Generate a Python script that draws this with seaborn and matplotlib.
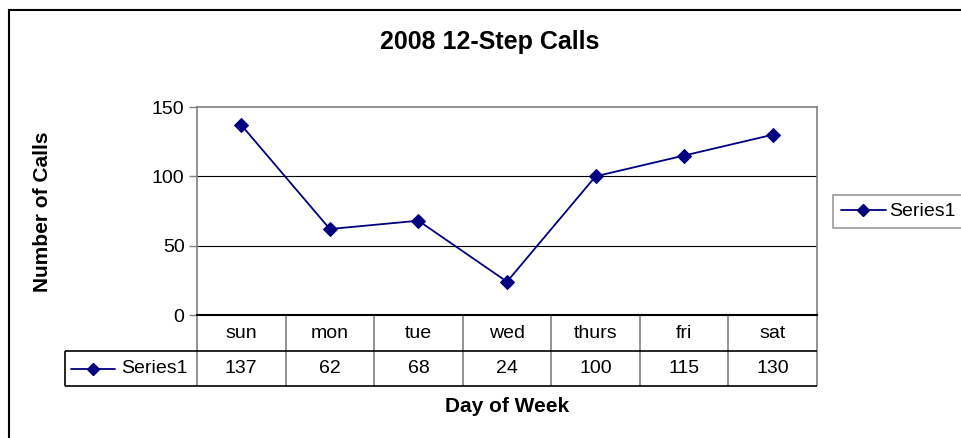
import matplotlib
matplotlib.use("Agg")
import matplotlib.pyplot as plt
import seaborn as sns
import pandas as pd
from matplotlib.patches import Rectangle
from matplotlib.lines import Line2D

# data
days = ["sun", "mon", "tue", "wed", "thurs", "fri", "sat"]
calls = [137, 62, 68, 24, 100, 115, 130]
series_name = "Series1"
y_ticks = [0, 50, 100, 150]

df = pd.DataFrame({"day": pd.Categorical(days, categories=days, ordered=True), "calls": calls})

sns.set_style("white")
plt.rcParams["font.family"] = ["Liberation Sans", "DejaVu Sans"]
plt.rcParams["text.color"] = "black"
plt.rcParams["ytick.labelcolor"] = "black"

navy = "#000080"
grey = "#808080"

W, H = 961, 438
fig = plt.figure(figsize=(W / 100, H / 100), dpi=100)
fig.patch.set_facecolor("white")

# plot area in pixel units
px_l, px_r, px_t, px_b = 197, 817, 107, 315
pw, ph = px_r - px_l, px_b - px_t
ax = fig.add_axes([px_l / W, 1 - px_b / H, pw / W, ph / H])

sns.lineplot(data=df, x="day", y="calls", ax=ax, color=navy, linewidth=1.3,
             marker="D", markersize=7, markeredgecolor=navy, sort=False)

ax.set_xlim(-0.5, len(days) - 0.5)
ax.set_ylim(0, 150)
ax.set_yticks(y_ticks)
ax.set_yticklabels([str(t) for t in y_ticks], fontsize=14, color="black")
ax.set_xticks([])
ax.set_xlabel("")
ax.set_ylabel("")
ax.tick_params(axis="y", left=True, length=6, width=1, color=grey, pad=3)
for y in y_ticks[1:-1]:
    ax.axhline(y, color="black", linewidth=0.8, zorder=0)
for side in ["left", "right", "top"]:
    ax.spines[side].set_color(grey)
    ax.spines[side].set_linewidth(1.2)
ax.spines["bottom"].set_color("black")
ax.spines["bottom"].set_linewidth(1.5)

# data table below the plot (x in data units, y in axes units)
xt = ax.get_xaxis_transform()
r1 = 36 / ph     # header row height
r2 = 71 / ph     # bottom of value row
label_l = -(px_l - 65) / pw
for i, d in enumerate(days):
    ax.text(i, -r1 / 2, d, transform=xt, ha="center", va="center", fontsize=14)
    ax.text(i, -(r1 + r2) / 2, str(calls[i]), transform=xt, ha="center", va="center", fontsize=14)
ax.vlines([k - 0.5 for k in range(len(days) + 1)], -r2, 0, transform=xt,
          colors=grey, linewidth=1.2, clip_on=False)
ax.hlines([-r1, -r2], label_l, 1, transform=ax.transAxes, colors="black",
          linewidth=1.2, clip_on=False)
ax.vlines([label_l], -r2, -r1, transform=ax.transAxes, colors="black",
          linewidth=1.2, clip_on=False)
ax.text(-(px_l - 188) / pw, -(r1 + r2) / 2, series_name, transform=ax.transAxes,
        ha="right", va="center", fontsize=14)

# legend key inside the table row
ax.add_line(Line2D([-(px_l - 71) / pw, -(px_l - 115) / pw], [-(r1 + r2) / 2] * 2,
                   transform=ax.transAxes, color=navy, linewidth=1.3, clip_on=False))
ax.add_line(Line2D([-(px_l - 93) / pw], [-(r1 + r2) / 2], transform=ax.transAxes,
                   color=navy, marker="D", markersize=6, clip_on=False, linestyle="none"))

# titles
fig.text(490 / W, 1 - 42 / H, "2008 12-Step Calls", ha="center", va="center",
         fontsize=18, fontweight="bold")
fig.text(43 / W, 1 - 212 / H, "Number of Calls", ha="center", va="center",
         rotation=90, fontsize=15, fontweight="bold")
fig.text(507 / W, 1 - 406 / H, "Day of Week", ha="center", va="center",
         fontsize=15, fontweight="bold")

# legend on the right
handle = Line2D([], [], color=navy, linewidth=1.3, marker="D", markersize=6)
leg = fig.legend([handle], [series_name], loc="upper left",
                 bbox_to_anchor=(833 / W, 1 - 195 / H), borderaxespad=0,
                 fontsize=14, handlelength=2.3, handletextpad=0.2,
                 borderpad=0.4, fancybox=False, frameon=True)
leg.get_frame().set_edgecolor(grey)
leg.get_frame().set_linewidth(1.2)

# outer chart border
fig.patches.append(Rectangle((9 / W, -0.1), 1.2, 1 - 10 / H + 0.1, transform=fig.transFigure,
                             fill=False, edgecolor="black", linewidth=1.5))

fig.savefig("out.png", dpi=100)
